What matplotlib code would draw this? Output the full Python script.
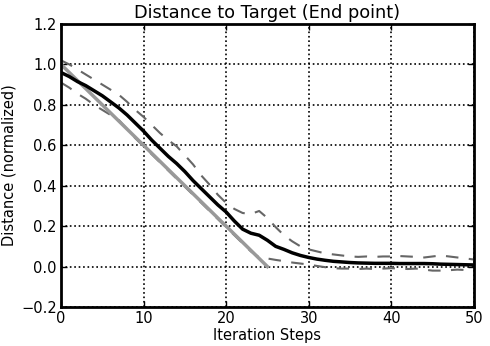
import matplotlib
matplotlib.use("Agg")
import matplotlib.pyplot as plt

# iteration steps 0..50
steps = list(range(51))

# mean distance (black)
mean_dist = [0.96, 0.94, 0.915, 0.895, 0.87, 0.845, 0.815, 0.785, 0.75, 0.71,
             0.67, 0.625, 0.585, 0.545, 0.51, 0.47, 0.425, 0.385, 0.345, 0.305,
             0.27, 0.225, 0.185, 0.165, 0.155, 0.13, 0.10, 0.085, 0.068, 0.055,
             0.045, 0.037, 0.031, 0.026, 0.023, 0.02, 0.018, 0.017, 0.016, 0.016,
             0.016, 0.015, 0.015, 0.015, 0.015, 0.014, 0.012, 0.011, 0.01, 0.009,
             0.008]

# upper / lower band (dashed)
upper_dist = [1.02, 1.0, 0.975, 0.95, 0.925, 0.90, 0.875, 0.85, 0.815, 0.775,
              0.74, 0.70, 0.66, 0.625, 0.595, 0.55, 0.505, 0.45, 0.405, 0.355,
              0.315, 0.285, 0.265, 0.26, 0.275, 0.24, 0.195, 0.155, 0.125, 0.10,
              0.085, 0.075, 0.065, 0.06, 0.055, 0.05, 0.048, 0.05, 0.048, 0.05,
              0.05, 0.052, 0.05, 0.048, 0.045, 0.05, 0.055, 0.05, 0.045, 0.04,
              0.035]
lower_dist = [0.91, 0.885, 0.855, 0.83, 0.80, 0.775, 0.75, 0.725, 0.68, 0.635,
              0.595, 0.555, 0.515, 0.475, 0.435, 0.395, 0.355, 0.315, 0.275, 0.235,
              0.195, 0.155, 0.115, 0.075, 0.045, 0.04, 0.033, 0.027, 0.02, 0.015,
              0.01, 0.003, -0.003, -0.008, -0.01, -0.01, -0.012, -0.01, -0.012, -0.01,
              -0.008, -0.01, -0.012, -0.01, -0.015, -0.02, -0.02, -0.018, -0.015, -0.017,
              -0.018]

# ideal straight-line reference (light gray)
ideal_steps = [0, 25]
ideal_dist = [1.0, 0.0]

fig = plt.figure(figsize=(4.9, 3.46), dpi=100)
ax = fig.add_axes([0.1245, 0.1127, 0.8425, 0.818])

ax.plot(steps, upper_dist, '--', color='#666666', lw=1.5, dashes=(6, 5))
ax.plot(steps, lower_dist, '--', color='#666666', lw=1.5, dashes=(6, 5))
ax.plot(ideal_steps, ideal_dist, color='#999999', lw=2.5)
ax.plot(steps, mean_dist, color='black', lw=2.5)

ax.set_xlim(0, 50)
ax.set_ylim(-0.2, 1.2)
ax.set_xticks([0, 10, 20, 30, 40, 50])
ax.set_yticks([-0.2, 0.0, 0.2, 0.4, 0.6, 0.8, 1.0, 1.2])
ax.grid(True, linestyle=':', color='black', lw=1.2)
ax.tick_params(direction='in', top=True, right=True, length=4, width=1, labelsize=10.5, pad=3)
for s in ax.spines.values():
    s.set_linewidth(2)

ax.set_title('Distance to Target (End point)', fontsize=12.8, pad=4)
ax.set_xlabel('Iteration Steps', fontsize=10.5, labelpad=1)
ax.set_ylabel('Distance (normalized)', fontsize=10.5)
ax.yaxis.set_label_coords(-0.108, 0.5)

fig.savefig('out.png', dpi=100, facecolor='white')
